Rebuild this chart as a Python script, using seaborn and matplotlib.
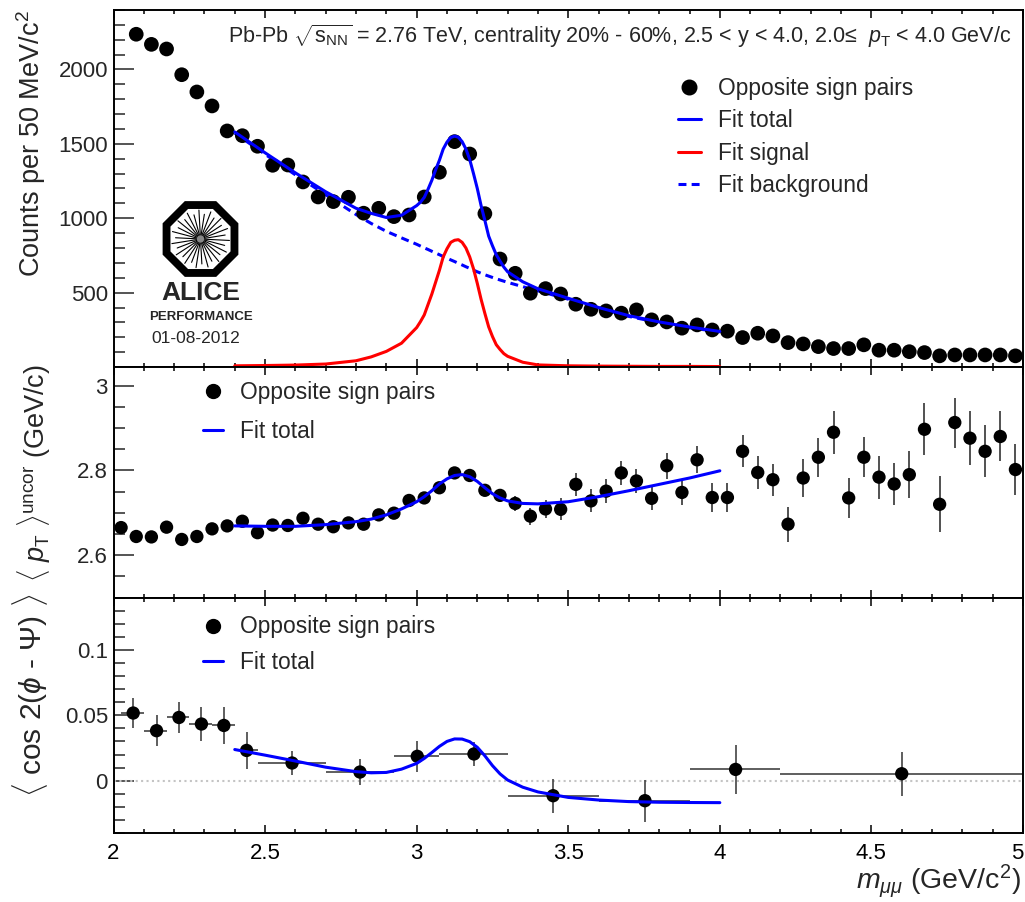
import numpy as np
import pandas as pd
import matplotlib
matplotlib.use("Agg")
import matplotlib.pyplot as plt
import seaborn as sns
from matplotlib.lines import Line2D
from matplotlib.patches import RegularPolygon
from matplotlib.ticker import FixedLocator, MultipleLocator, FuncFormatter

# ---------------- data ----------------
# opposite-sign dimuon counts, 50 MeV bins
mass_top = np.round(np.arange(2.075, 5.0, 0.05), 3)
counts = [2237, 2169, 2138, 1965, 1849, 1755, 1587, 1555, 1484, 1356,
          1358, 1244, 1143, 1112, 1141, 1034, 1067, 1011, 1022, 1143,
          1309, 1515, 1432, 1031, 726, 630, 496, 527, 491, 422,
          388, 377, 362, 384, 317, 303, 261, 283, 249, 241,
          198, 227, 209, 164, 155, 137, 124, 124, 149, 113,
          113, 103, 97, 75, 81, 81, 81, 81, 75]

# invariant-mass fit components, sampled densely around the J/psi peak
fit_mass_top = [2.40, 2.50, 2.60, 2.70, 2.80, 2.85, 2.90, 2.95, 3.00, 3.0125,
                3.025, 3.0375, 3.05, 3.0625, 3.075, 3.0875, 3.10, 3.1125, 3.125, 3.1375,
                3.15, 3.1625, 3.175, 3.1875, 3.20, 3.2125, 3.225, 3.2375, 3.25, 3.2625,
                3.275, 3.2875, 3.30, 3.35, 3.40, 3.50, 3.60, 3.70, 3.80, 3.90,
                4.00]
fit_total = [1580, 1440, 1305, 1178, 1067, 1033, 1005, 1020, 1085, 1108,
             1140, 1195, 1255, 1325, 1390, 1465, 1512, 1543, 1552, 1545,
             1515, 1465, 1395, 1300, 1200, 1085, 985, 880, 815, 755,
             712, 672, 640, 573, 526, 462, 400, 345, 303, 269,
             239]
fit_signal = [8, 10, 13, 20, 42, 68, 105, 160, 265, 305,
              350, 420, 490, 570, 650, 740, 795, 838, 852, 856,
              838, 800, 740, 660, 562, 455, 360, 270, 205, 150,
              118, 90, 72, 32, 14, 8, 6, 5, 4, 4,
              3]
fit_background = [1572, 1430, 1292, 1158, 1025, 965, 912, 868, 825, 813,
                  801, 790, 778, 766, 755, 743, 732, 720, 709, 697,
                  686, 674, 663, 651, 640, 630, 620, 611, 602, 593,
                  585, 577, 569, 540, 512, 456, 396, 340, 298, 264,
                  236]

# mean transverse momentum per 50 MeV bin
mass_mid = np.round(np.arange(2.025, 5.0, 0.05), 3)
mean_pt = [2.665, 2.644, 2.643, 2.666, 2.637, 2.644, 2.662, 2.669, 2.680, 2.653,
           2.671, 2.670, 2.687, 2.673, 2.667, 2.676, 2.673, 2.695, 2.699, 2.729,
           2.735, 2.759, 2.794, 2.788, 2.753, 2.741, 2.722, 2.692, 2.709, 2.708,
           2.767, 2.728, 2.751, 2.794, 2.775, 2.734, 2.811, 2.748, 2.825, 2.736,
           2.736, 2.845, 2.795, 2.778, 2.673, 2.782, 2.831, 2.890, 2.735, 2.831,
           2.784, 2.768, 2.790, 2.897, 2.720, 2.913, 2.876, 2.845, 2.880, 2.802]
mean_pt_err = [0.012, 0.012, 0.012, 0.012, 0.012, 0.012, 0.012, 0.012, 0.012, 0.012,
               0.012, 0.012, 0.012, 0.012, 0.012, 0.012, 0.012, 0.012, 0.012, 0.014,
               0.014, 0.014, 0.014, 0.014, 0.014, 0.016, 0.017, 0.020, 0.022, 0.026,
               0.027, 0.027, 0.028, 0.028, 0.028, 0.027, 0.031, 0.030, 0.032, 0.035,
               0.035, 0.038, 0.039, 0.038, 0.041, 0.044, 0.046, 0.051, 0.048, 0.047,
               0.051, 0.049, 0.055, 0.061, 0.066, 0.059, 0.063, 0.061, 0.059, 0.061]

# fits of mean pT and cos 2(phi - Psi)
fit_mass = [2.40, 2.50, 2.60, 2.70, 2.80, 2.85, 2.90, 2.95, 3.00, 3.025,
            3.05, 3.075, 3.10, 3.125, 3.15, 3.175, 3.20, 3.225, 3.25, 3.275,
            3.30, 3.35, 3.40, 3.50, 3.60, 3.70, 3.80, 3.90, 4.00]
fit_mean_pt = [2.669, 2.668, 2.668, 2.672, 2.679, 2.685, 2.695, 2.709, 2.726, 2.738,
               2.752, 2.768, 2.780, 2.788, 2.790, 2.785, 2.774, 2.759, 2.745, 2.735,
               2.728, 2.722, 2.721, 2.726, 2.738, 2.752, 2.767, 2.782, 2.799]
fit_v2 = [0.0238, 0.0195, 0.0150, 0.0103, 0.0069, 0.0060, 0.0063, 0.0088, 0.0132, 0.0170,
          0.0215, 0.0262, 0.0300, 0.0319, 0.0318, 0.0298, 0.0255, 0.0190, 0.0115, 0.0052,
          0.0005, -0.0050, -0.0086, -0.0128, -0.0148, -0.0160, -0.0165, -0.0167, -0.0168]

# cos 2(phi - Psi) in variable-width mass bins
mass_v2 = [2.065, 2.142, 2.216, 2.290, 2.364, 2.439, 2.589, 2.813, 3.002, 3.189,
           3.450, 3.753, 4.052, 4.600]
bin_lo = [2.025, 2.100, 2.175, 2.250, 2.325, 2.400, 2.475, 2.700, 2.925, 3.075,
          3.300, 3.600, 3.900, 4.200]
bin_hi = [2.100, 2.175, 2.250, 2.325, 2.400, 2.475, 2.700, 2.925, 3.075, 3.300,
          3.600, 3.900, 4.200, 5.000]
v2 = [0.0517, 0.0382, 0.0483, 0.0433, 0.0422, 0.0231, 0.0135, 0.0066, 0.0186, 0.0204,
      -0.0115, -0.0153, 0.0086, 0.0053]
v2_err = [0.0115, 0.012, 0.012, 0.013, 0.014, 0.0144, 0.0092, 0.0098, 0.012, 0.0092,
          0.013, 0.016, 0.0188, 0.0168]

x_ticks = [2, 2.5, 3, 3.5, 4, 4.5, 5]

# ---------------- style ----------------
sns.set_theme(style="white")
plt.rcParams["font.family"] = ["Liberation Sans", "DejaVu Sans"]
plt.rcParams.update({
    "mathtext.fontset": "custom",
    "mathtext.rm": "Liberation Sans",
    "mathtext.it": "Liberation Sans:italic",
    "mathtext.bf": "Liberation Sans:bold",
    "mathtext.sf": "Liberation Sans",
    "axes.linewidth": 1.4,
    "axes.edgecolor": "black",
})

W, H = 1025, 902
fig = plt.figure(figsize=(W / 100, H / 100), dpi=100)


def px_axes(left, top, right, bottom):
    return fig.add_axes([left / W, 1 - bottom / H, (right - left) / W, (bottom - top) / H])


ax1 = px_axes(113.5, 10, 1023, 367)
ax2 = px_axes(113.5, 367, 1023, 597.5)
ax3 = px_axes(113.5, 597.5, 1023, 833)

BLUE = (0, 0, 1)
RED = (1, 0, 0)
TICK_FS = 16
LEG_FS = 16.4

df_top = pd.DataFrame({"mass": mass_top, "counts": counts})
df_fit_top = pd.DataFrame({"mass": fit_mass_top, "total": fit_total,
                           "signal": fit_signal, "background": fit_background})
df_fit = pd.DataFrame({"mass": fit_mass, "mean_pt": fit_mean_pt, "v2": fit_v2})
df_mid = pd.DataFrame({"mass": mass_mid, "mean_pt": mean_pt, "err": mean_pt_err})
df_v2 = pd.DataFrame({"mass": mass_v2, "v2": v2, "err": v2_err,
                      "lo": bin_lo, "hi": bin_hi})

# ---- top: invariant mass spectrum ----
sns.lineplot(data=df_fit_top, x="mass", y="background", ax=ax1, color=BLUE, lw=2.2,
             estimator=None, sort=False, legend=False, zorder=2)
ax1.lines[-1].set_dashes((2.6, 1.7))
sns.lineplot(data=df_fit_top, x="mass", y="signal", ax=ax1, color=RED, lw=2.2,
             estimator=None, sort=False, legend=False, zorder=2)
sns.lineplot(data=df_fit_top, x="mass", y="total", ax=ax1, color=BLUE, lw=2.2,
             estimator=None, sort=False, legend=False, zorder=4)
sns.scatterplot(data=df_top, x="mass", y="counts", ax=ax1, color="black",
                s=112, edgecolor="none", legend=False, zorder=3)
ax1.set_ylim(0, 2400)
ax1.yaxis.set_major_locator(FixedLocator([500, 1000, 1500, 2000]))
ax1.yaxis.set_minor_locator(MultipleLocator(100))

h_top = [Line2D([], [], ls="none", marker="o", ms=10.5, color="black"),
         Line2D([], [], color=BLUE, lw=2.2),
         Line2D([], [], color=RED, lw=2.2),
         Line2D([], [], color=BLUE, lw=2.2, dashes=(2.6, 1.7))]
ax1.legend(h_top, ["Opposite sign pairs", "Fit total", "Fit signal", "Fit background"],
           loc="upper left", bbox_to_anchor=((678 - 113.5) / 909.5, (367 - 77) / 357),
           frameon=False, fontsize=LEG_FS, handlelength=1.0, handletextpad=0.75,
           labelspacing=0.41, borderpad=0, borderaxespad=0)

# ---- middle: mean pT ----
ax2.errorbar(df_mid["mass"], df_mid["mean_pt"], yerr=df_mid["err"], fmt="none",
             ecolor="#222222", elinewidth=1.1, capsize=0, zorder=2)
sns.scatterplot(data=df_mid, x="mass", y="mean_pt", ax=ax2, color="black",
                s=92, edgecolor="none", legend=False, zorder=3)
sns.lineplot(data=df_fit, x="mass", y="mean_pt", ax=ax2, color=BLUE, lw=2.2,
             estimator=None, sort=False, legend=False, zorder=4)
ax2.set_ylim(2.5, 3.044)
ax2.yaxis.set_major_locator(FixedLocator([2.6, 2.8, 3.0]))
ax2.yaxis.set_minor_locator(MultipleLocator(0.05))

h_two = [Line2D([], [], ls="none", marker="o", ms=10, color="black"),
         Line2D([], [], color=BLUE, lw=2.2)]
ax2.legend(h_two, ["Opposite sign pairs", "Fit total"],
           loc="upper left", bbox_to_anchor=((202.7 - 113.5) / 909.5, (597.5 - 381) / 230.5),
           frameon=False, fontsize=LEG_FS, handlelength=0.9, handletextpad=0.75,
           labelspacing=0.7, borderpad=0, borderaxespad=0)

# ---- bottom: cos 2(phi - Psi) ----
ax3.axhline(0, color="#c4c4c4", lw=1.5, ls=(0, (1, 1.6)), zorder=1)
xerr = [np.array(mass_v2) - np.array(bin_lo), np.array(bin_hi) - np.array(mass_v2)]
ax3.errorbar(df_v2["mass"], df_v2["v2"], xerr=xerr, yerr=df_v2["err"], fmt="none",
             ecolor="#333333", elinewidth=1.1, capsize=0, zorder=2)
sns.scatterplot(data=df_v2, x="mass", y="v2", ax=ax3, color="black",
                s=92, edgecolor="none", legend=False, zorder=3)
sns.lineplot(data=df_fit, x="mass", y="v2", ax=ax3, color=BLUE, lw=2.2,
             estimator=None, sort=False, legend=False, zorder=4)
ax3.set_ylim(-0.04, 0.14)
ax3.yaxis.set_major_locator(FixedLocator([0, 0.05, 0.1]))
ax3.yaxis.set_minor_locator(MultipleLocator(0.01))
ax3.legend(h_two, ["Opposite sign pairs", "Fit total"],
           loc="upper left", bbox_to_anchor=((202.7 - 113.5) / 909.5, (833 - 615.5) / 235.5),
           frameon=False, fontsize=LEG_FS, handlelength=0.9, handletextpad=0.75,
           labelspacing=0.55, borderpad=0, borderaxespad=0)

fmt = FuncFormatter(lambda v, p: f"{v:g}")
for ax in (ax1, ax2, ax3):
    ax.set_xlim(2, 5)
    ax.xaxis.set_major_locator(FixedLocator(x_ticks))
    ax.xaxis.set_minor_locator(MultipleLocator(0.1))
    ax.xaxis.set_major_formatter(fmt)
    ax.yaxis.set_major_formatter(fmt)
    ax.set_xlabel("")
    ax.set_ylabel("")
    ax.tick_params(axis="x", which="both", direction="in", top=True, bottom=True,
                   labelbottom=False, width=1.1, colors="black", labelsize=TICK_FS)
    ax.tick_params(axis="x", which="major", length=6.0, pad=7)
    ax.tick_params(axis="x", which="minor", length=3.2)
    ax.tick_params(axis="y", which="both", direction="in", left=True, right=False,
                   width=1.1, labelsize=TICK_FS)
    ax.tick_params(axis="y", which="major", length=14.4, pad=4)
    ax.tick_params(axis="y", which="minor", length=7.6)
    for s in ax.spines.values():
        s.set_visible(True)
        s.set_color("black")
        s.set_linewidth(1.4)
ax3.tick_params(axis="x", labelbottom=True)
# keep the last mass label inside the canvas
ax3.get_xticklabels()[-1].set_horizontalalignment("right")

# ---- axis titles ----
fig.text(40 / W, 1 - 10 / H, r"Counts per 50 MeV/c$^{2}$", rotation=90,
         rotation_mode="anchor", ha="right", va="baseline", fontsize=19.5)
fig.text(45 / W, 1 - 364 / H, r"$\langle\ p_{\mathrm{T}}\ \rangle^{\mathrm{uncor}}$ (GeV/c)",
         rotation=90, rotation_mode="anchor", ha="right", va="baseline", fontsize=19.5)
fig.text(42 / W, 1 - 594 / H, r"$\langle$ cos 2($\phi$ - $\Psi$) $\rangle$",
         rotation=90, rotation_mode="anchor", ha="right", va="baseline", fontsize=21.5)
fig.text(1021 / W, 1 - 900 / H, r"$m_{\mu\mu}$ (GeV/c$^{2}$)", ha="right",
         va="bottom", fontsize=20.5)

# ---- header ----
fig.text(1011 / W, 1 - 43 / H,
         r"Pb-Pb $\sqrt{\mathrm{s}_{\mathrm{NN}}}$ = 2.76 TeV, centrality 20% - 60%, "
         r"2.5 < y < 4.0, 2.0≤  $p_{\mathrm{T}}$ < 4.0 GeV/c",
         ha="right", va="baseline", fontsize=15.5)

# ---- ALICE performance badge ----
logo = px_axes(150, 195, 252, 352)
logo.set_xlim(150, 252)
logo.set_ylim(352, 195)
logo.axis("off")
cx, cy = 200.5, 239
logo.add_patch(RegularPolygon((cx, cy), 8, radius=41, orientation=np.pi / 8,
                              fc="black", ec="none"))
logo.add_patch(RegularPolygon((cx, cy), 8, radius=32.5, orientation=np.pi / 8,
                              fc="white", ec="none"))
for k in range(30):
    ang = 2 * np.pi * k / 30 + 0.05
    r = 29 if k % 2 == 0 else 25
    logo.plot([cx + 2 * np.cos(ang), cx + r * np.cos(ang)],
              [cy + 2 * np.sin(ang), cy + r * np.sin(ang)],
              color="black", lw=0.8)
logo.add_patch(plt.Circle((cx, cy), 3, color="#888888", zorder=3))
logo.text(cx, 293, "ALICE", ha="center", va="center", fontsize=19, fontweight="bold")
logo.text(cx, 317, "PERFORMANCE", ha="center", va="center", fontsize=9.5, fontweight="bold")
logo.text(196, 338.5, "01-08-2012", ha="center", va="center", fontsize=12.5)

fig.savefig("out.png", dpi=100)
